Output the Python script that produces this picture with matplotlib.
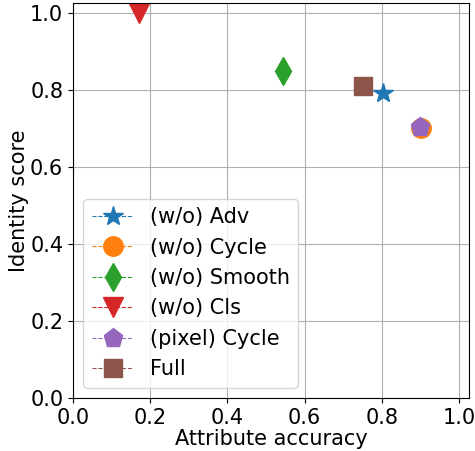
import matplotlib
matplotlib.use("Agg")
import matplotlib.pyplot as plt

labels = ["(w/o) Adv", "(w/o) Cycle", "(w/o) Smooth", "(w/o) Cls", "(pixel) Cycle", "Full"]
attr_acc = [0.803, 0.902, 0.544, 0.171, 0.899, 0.751]
id_score = [0.792, 0.701, 0.849, 1.000, 0.704, 0.810]
markers = ["*", "o", "d", "v", "p", "s"]
sizes = [15, 14, 14, 14, 14, 13]

fig = plt.figure(figsize=(4.75, 4.51), dpi=100)
ax = fig.add_axes([73/475, 53/451, 396/475, 395/451])
for i, lab in enumerate(labels):
    ax.plot([attr_acc[i]], [id_score[i]], linestyle='--', linewidth=0.8,
            marker=markers[i], markersize=sizes[i], color='C%d' % i, label=lab)

ax.set_xlim(0, 1.026)
ax.set_ylim(0, 1.026)
ax.set_xticks([0, 0.2, 0.4, 0.6, 0.8, 1.0])
ax.set_yticks([0, 0.2, 0.4, 0.6, 0.8, 1.0])
ax.tick_params(labelsize=15)
ax.grid(True)
ax.set_xlabel("Attribute accuracy", fontsize=15, labelpad=1)
ax.set_ylabel("Identity score", fontsize=15, labelpad=1)
ax.legend(loc='lower left', fontsize=15, numpoints=1, handlelength=2.0)
fig.savefig("out.png")
